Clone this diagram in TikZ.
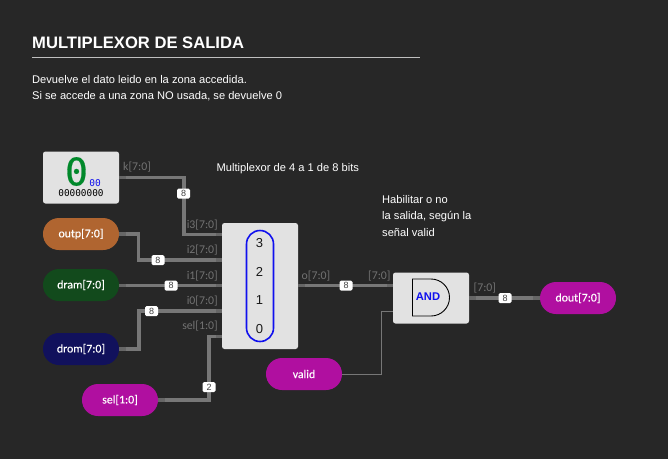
\documentclass[tikz,border=0pt]{standalone}
\usepackage{fontspec}
\setmainfont{Liberation Sans}
\newfontfamily\pillfont[FakeBold=0.25]{Carlito}
\newfontfamily\wirefont{Carlito}
\newfontfamily\dispfont{DejaVu Sans Mono}
\newfontfamily\bigdisp[FakeBold=0.7]{DejaVu Sans Mono}
\usetikzlibrary{calc}
\definecolor{bg}{HTML}{272727}
\definecolor{boxfill}{HTML}{E2E2E2}
\definecolor{wirecol}{HTML}{777777}
\definecolor{pincol}{HTML}{666666}
\definecolor{lblcol}{HTML}{727272}
\definecolor{cbrown}{HTML}{B06530}
\definecolor{cgreen}{HTML}{124A1C}
\definecolor{cnavy}{HTML}{11115C}
\definecolor{cmag}{HTML}{B00FA0}
\definecolor{dgreen}{HTML}{00882A}
\definecolor{cblue}{HTML}{1010EE}
\tikzset{
  pill/.style={rounded corners=15.9pt,minimum width=76pt,minimum height=32pt,inner sep=0pt,text=white,font=\pillfont\fontsize{11.8}{11.8}\selectfont},
  block/.style={fill=boxfill,rounded corners=2.5pt,inner sep=0pt},
  bus/.style={draw=wirecol,line width=3.4pt},
  pinwire/.style={draw=pincol,line width=3.4pt},
  thinwire/.style={draw=wirecol,line width=1pt},
  badge/.style={fill=white,rounded corners=1.5pt,minimum width=13pt,minimum height=10pt,inner sep=0pt,text=black!75,font=\fontsize{9}{9}\selectfont},
  wlabel/.style={text=lblcol,inner sep=0pt,font=\wirefont\fontsize{11.8}{11.8}\selectfont},
  txt/.style={text=white,inner sep=0pt,anchor=base west,font=\fontsize{11.13}{11.13}\selectfont},
}
\begin{document}
\begin{tikzpicture}[x=1pt,y=-1pt]
\useasboundingbox (0,0) rectangle (668,459);
\fill[bg] (0,0) rectangle (668,459);
% title
\node[txt,font=\bfseries\fontsize{16.6}{16.6}\selectfont] (title) at (32,48) {MULTIPLEXOR DE SALIDA};
\coordinate (ruleA) at (32,57.5);
\coordinate (ruleB) at (420,57.5);
\draw[white!75!black,line width=.8pt] (ruleA) -- (ruleB);
\node[txt] (d1) at (32,83) {Devuelve el dato leido en la zona accedida.};
\node[txt] (d2) at (32,99) {Si se accede a una zona NO usada, se devuelve 0};
\node[txt] (n1) at (216.5,171) {Multiplexor de 4 a 1 de 8 bits};
\node[txt] (n2) at (382,203) {Habilitar o no};
\node[txt] (n3) at (382,219) {la salida, según la};
\node[txt] (n4) at (382,236) {señal valid};
% blocks
\node[block,minimum width=76pt,minimum height=52pt] (k) at (81,177.5) {};
\node[block,minimum width=76pt,minimum height=126pt] (mux) at (260,286) {};
\node[block,minimum width=76pt,minimum height=51pt] (andb) at (431,298) {};
\node[pill,fill=cbrown] (outp) at (81,234) {outp[7:0]};
\node[pill,fill=cgreen] (dram) at (81,285) {dram[7:0]};
\node[pill,fill=cnavy] (drom) at (81,349) {drom[7:0]};
\node[pill,fill=cmag] (sel) at (120,400) {sel[1:0]};
\node[pill,fill=cmag] (valid) at (304,374) {valid};
\node[pill,fill=cmag] (dout) at (578,298) {dout[7:0]};
% display
\node[inner sep=0pt,text=dgreen,font=\bigdisp\fontsize{38}{38}\selectfont] (big) at (76.5,171.5) {0};
\node[inner sep=0pt,text=cblue,font=\dispfont\fontsize{9.5}{9.5}\selectfont] (small) at (95,183) {00};
\node[inner sep=0pt,text=black,font=\dispfont\fontsize{9.4}{9.4}\selectfont] (bits) at (81,193) {00000000};
% mux interior
\node[draw=cblue,line width=1.6pt,rounded corners=13.5pt,minimum width=27pt,minimum height=111pt,inner sep=0pt] (cap) at (260,286) {};
\foreach \t/\yy in {3/243.5,2/272,1/300.5,0/329}
  \node[inner sep=0pt,text=black!90,font=\fontsize{13}{13}\selectfont] (m\t) at (259.5,\yy) {\t};
% AND gate
\coordinate (ga) at (412.5,279);
\coordinate (gb) at (412.5,316);
\draw[black,line width=.9pt] (ga) -- (431,279) arc[start angle=-90,end angle=90,radius=18.5] -- (gb) -- cycle;
\node[inner sep=0pt,text=cblue,font=\bfseries\fontsize{11.2}{11.2}\selectfont] (andt) at (428,297) {AND};
% pins
\coordinate (p3) at (222,234.5);
\coordinate (p2) at (222,260);
\coordinate (p1) at (222,285.5);
\coordinate (p0) at (222,311);
\coordinate (ps) at (222,336.5);
\coordinate (po) at (298,285.5);
\coordinate (pa) at (393,285.5);
\coordinate (pv) at (393,311);
\coordinate (pd) at (119,285.5);
% wires
\draw[bus] (k.east) -- (184,177.5) -- (184,234.5) -- (p3);
\draw[bus] (outp.east) -- (138.5,234) -- (138.5,260) -- (p2);
\draw[bus] (pd) -- (p1);
\draw[bus] (drom.east) -- (139,349) -- (139,311) -- (p0);
\draw[bus] (sel.east) -- (209,400) -- (209,336.5) -- (ps);
\draw[bus] (po) -- (pa);
\draw[bus] (andb.east) -- (dout.west);
\draw[thinwire] (valid.east) -- (381,374) -- (381,311) -- (pv);
% pin stubs
\foreach \c in {k.east,outp.east,pd,drom.east,sel.east,po,andb.east}
  \draw[pinwire] (\c) -- ++(6.5,0);
\foreach \c in {p3,p2,p1,p0,ps,pa,dout.west}
  \draw[pinwire] (\c) -- ++(-6.5,0);
% badges
\node[badge] (b1) at (183.5,193.5) {8};
\node[badge] (b2) at (158,260) {8};
\node[badge] (b3) at (171,285.5) {8};
\node[badge] (b4) at (151.5,311) {8};
\node[badge] (b5) at (209,387) {2};
\node[badge] (b6) at (346,285.5) {8};
\node[badge] (b7) at (505,298) {8};
% wire labels
\node[wlabel,anchor=base west] (l1) at (123,170) {k[7:0]};
\node[wlabel,anchor=base east] (l2) at (218,228.5) {i3[7:0]};
\node[wlabel,anchor=base east] (l3) at (218,253) {i2[7:0]};
\node[wlabel,anchor=base east] (l4) at (218,279.5) {i1[7:0]};
\node[wlabel,anchor=base east] (l5) at (218,304) {i0[7:0]};
\node[wlabel,anchor=base east] (l6) at (218,329.5) {sel[1:0]};
\node[wlabel,anchor=base west] (l7) at (301.5,279.5) {o[7:0]};
\node[wlabel,anchor=base west] (l8) at (368,279.5) {[7:0]};
\node[wlabel,anchor=base west] (l9) at (473.5,291) {[7:0]};
\end{tikzpicture}
\end{document}
